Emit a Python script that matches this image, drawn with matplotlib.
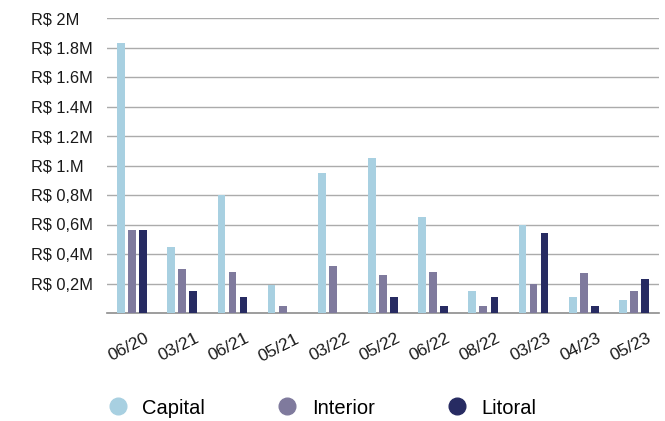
import numpy as np
import matplotlib
matplotlib.use("Agg")
import matplotlib.pyplot as plt
from matplotlib.lines import Line2D

plt.rcParams['font.family'] = ['Liberation Sans', 'DejaVu Sans']

periods = ['06/20', '03/21', '06/21', '05/21', '03/22', '05/22',
           '06/22', '08/22', '03/23', '04/23', '05/23']
capital = [1.83, 0.45, 0.80, 0.19, 0.95, 1.05, 0.65, 0.15, 0.60, 0.11, 0.09]
interior = [0.56, 0.30, 0.28, 0.05, 0.32, 0.26, 0.28, 0.05, 0.20, 0.27, 0.15]
litoral = [0.56, 0.15, 0.11, 0.0, 0.0, 0.11, 0.05, 0.11, 0.54, 0.05, 0.23]

yticks = [0.2, 0.4, 0.6, 0.8, 1.0, 1.2, 1.4, 1.6, 1.8, 2.0]
ytick_labels = ['R$ 0,2M', 'R$ 0,4M', 'R$ 0,6M', 'R$ 0,8M', 'R$ 1.M',
                'R$ 1.2M', 'R$ 1.4M', 'R$ 1.6M', 'R$ 1.8M', 'R$ 2M']

series = [('Capital', capital, '#a8d0e1'),
          ('Interior', interior, '#7f7a9d'),
          ('Litoral', litoral, '#272b62')]

fig = plt.figure(figsize=(6.65, 4.21), dpi=100)
ax = fig.add_axes([107 / 665, 1 - 313 / 421, 552 / 665, 295 / 421])

x = np.arange(len(periods))
w = 0.155
step = 0.22
for i, (name, vals, col) in enumerate(series):
    ax.bar(x + (i - 1) * step, vals, width=w, color=col, zorder=3)

ax.set_xlim(-0.5, len(periods) - 0.5)
ax.set_ylim(0, 2.0)
ax.set_yticks(yticks)
ax.set_yticklabels(ytick_labels)
ax.grid(axis='y', color='#ababab', linewidth=1.0, zorder=0)
for s in ['top', 'right', 'left']:
    ax.spines[s].set_visible(False)
ax.spines['bottom'].set_color('#8c8c8c')
ax.spines['bottom'].set_linewidth(1.2)
ax.tick_params(axis='y', length=0, pad=55, labelsize=11.8, labelcolor='#1a1a1a')
for lbl in ax.get_yticklabels():
    lbl.set_horizontalalignment('left')

ax.set_xticks(x + 0.25)
ax.set_xticklabels(periods, rotation=27, ha='right', rotation_mode='anchor')
ax.tick_params(axis='x', length=0, pad=13, labelsize=12.5, labelcolor='#1a1a1a')

handles = [Line2D([], [], linestyle='none', marker='o', markersize=12,
                  markerfacecolor=col, markeredgecolor=col, label=name)
           for name, vals, col in series]
fig.legend(handles=handles, loc='center left', bbox_to_anchor=(0.15, 1 - 408 / 421),
           ncol=3, frameon=False, fontsize=14.5, handletextpad=0.7,
           columnspacing=3.6, borderaxespad=0, handlelength=1.0)

fig.savefig('out.png', dpi=100)
